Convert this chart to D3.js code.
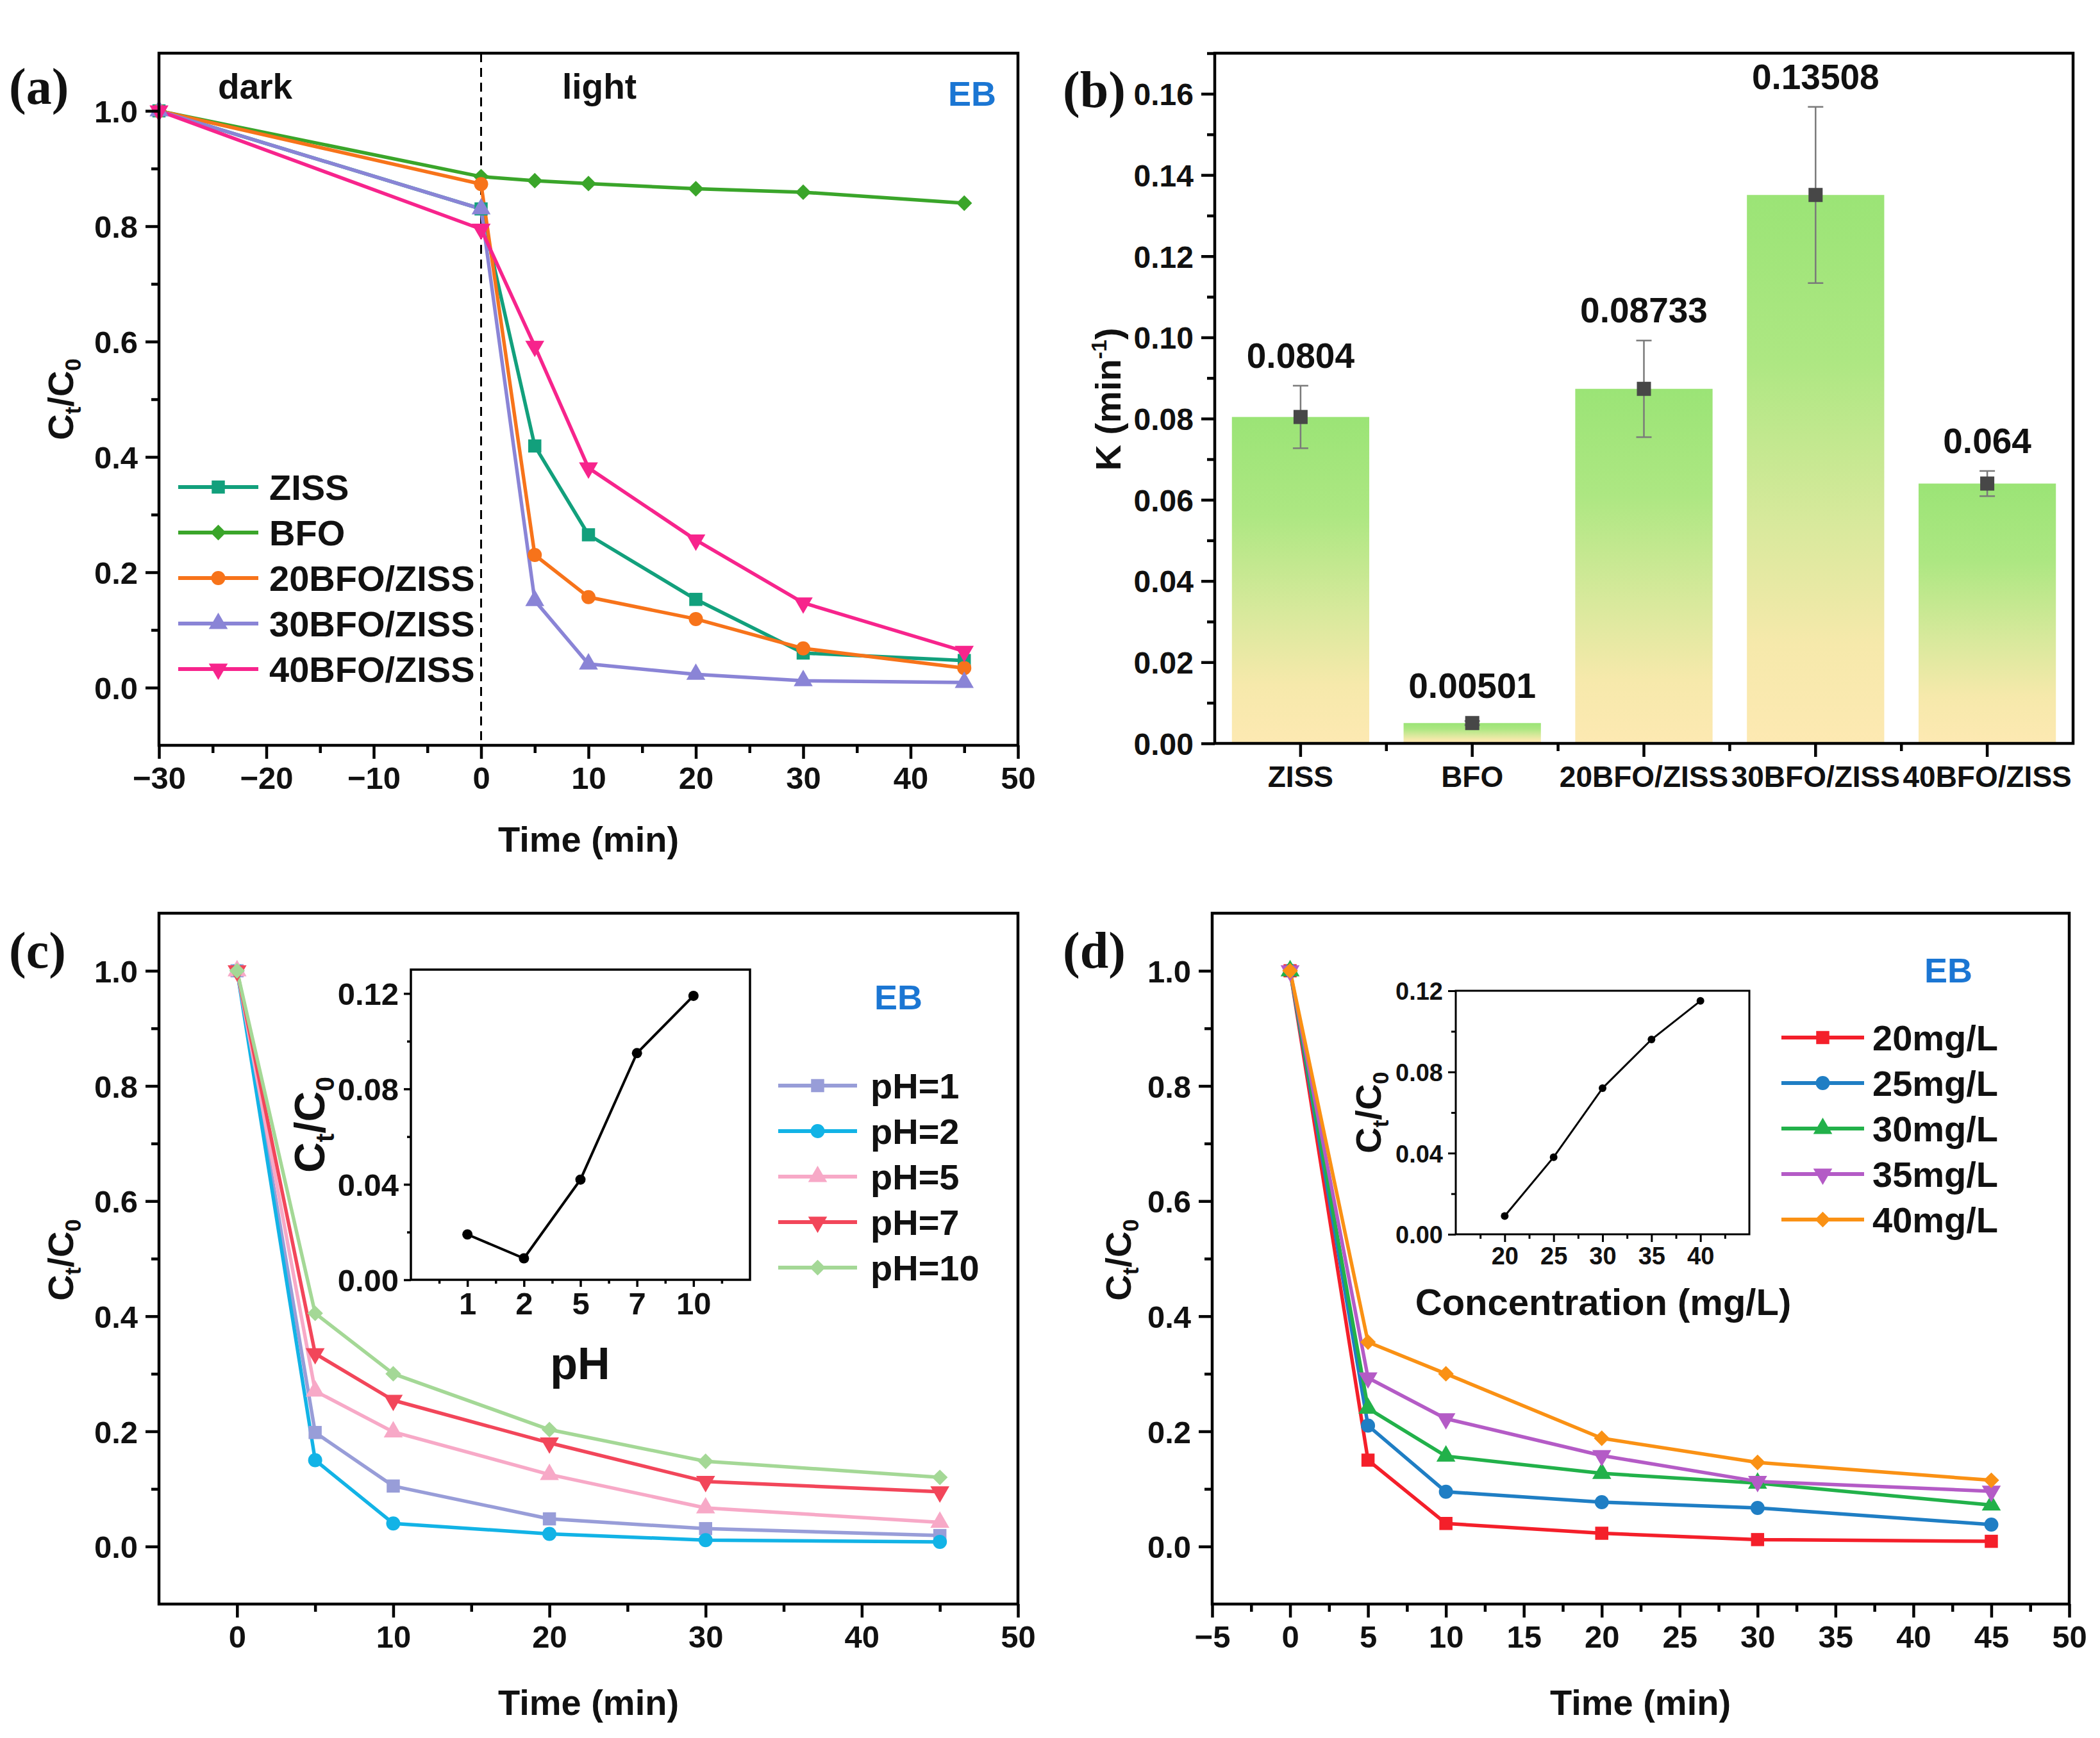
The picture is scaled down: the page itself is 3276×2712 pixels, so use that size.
<!DOCTYPE html>
<html>
<head>
<meta charset="utf-8">
<script src="https://cdn.jsdelivr.net/npm/d3@7"></script>
<style>
  body { margin: 0; background: #fff; }
  text { font-family: "Liberation Sans", Arial, sans-serif; font-weight: bold; fill: #111; }
</style>
</head>
<body>
<svg id="fig" width="3276" height="2712"></svg>
<script>
// ---------- data ----------
// (a) dark / light degradation
const timeA = [-30, 0, 5, 10, 20, 30, 45];
const namesA = ["ZISS", "BFO", "20BFO/ZISS", "30BFO/ZISS", "40BFO/ZISS"];
const zissA = [1.0, 0.83, 0.419, 0.265, 0.153, 0.06, 0.047];
const bfoA = [1.0, 0.886, 0.879, 0.874, 0.865, 0.859, 0.84];
const bfo20A = [1.0, 0.873, 0.23, 0.157, 0.119, 0.068, 0.034];
const bfo30A = [1.0, 0.83, 0.151, 0.041, 0.023, 0.012, 0.009];
const bfo40A = [1.0, 0.795, 0.592, 0.381, 0.256, 0.147, 0.063];

// (b) rate constants
const catsB = ["ZISS", "BFO", "20BFO/ZISS", "30BFO/ZISS", "40BFO/ZISS"];
const kB = [0.0804, 0.00501, 0.08733, 0.13508, 0.064];
const kErrB = [0.0077, 0.0005, 0.0119, 0.0217, 0.0031];
const kLabelsB = ["0.0804", "0.00501", "0.08733", "0.13508", "0.064"];

// (c) pH effect
const timeC = [0, 5, 10, 20, 30, 45];
const namesC = ["pH=1", "pH=2", "pH=5", "pH=7", "pH=10"];
const ph1C = [1.0, 0.198, 0.105, 0.048, 0.031, 0.019];
const ph2C = [1.0, 0.15, 0.04, 0.022, 0.011, 0.008];
const ph5C = [1.0, 0.27, 0.199, 0.125, 0.067, 0.042];
const ph7C = [1.0, 0.335, 0.254, 0.18, 0.113, 0.095];
const ph10C = [1.0, 0.405, 0.3, 0.203, 0.148, 0.12];
const insetPhLabels = ["1", "2", "5", "7", "10"];
const insetPhValues = [0.019, 0.009, 0.042, 0.095, 0.119];

// (d) concentration effect
const timeD = [0, 5, 10, 20, 30, 45];
const namesD = ["20mg/L", "25mg/L", "30mg/L", "35mg/L", "40mg/L"];
const c20D = [1.0, 0.15, 0.04, 0.023, 0.012, 0.009];
const c25D = [1.0, 0.21, 0.095, 0.077, 0.067, 0.038];
const c30D = [1.0, 0.24, 0.157, 0.127, 0.11, 0.072];
const c35D = [1.0, 0.293, 0.222, 0.158, 0.113, 0.096];
const c40D = [1.0, 0.355, 0.3, 0.188, 0.146, 0.115];
const insetConc = [20, 25, 30, 35, 40];
const insetConcValues = [0.009, 0.038, 0.072, 0.096, 0.115];

// ---------- helpers ----------
const svg = d3.select("#fig");
svg.append("rect").attr("width", 3276).attr("height", 2712).attr("fill", "#fff");

const BLUE_EB = "#1b76d3";

function symbolFor(shape) {
    if (shape === "square") return d3.symbolSquare;
    if (shape === "circle") return d3.symbolCircle;
    if (shape === "diamond") return d3.symbolDiamond2;
    return d3.symbolTriangle;
}
const symSize = {square: 420, circle: 380, diamond: 380, up: 380, down: 380};

function marker(g, shape, x, y, color, scale) {
    let s = symSize[shape] * (scale || 1);
    g.append("path")
        .attr("d", d3.symbol().type(symbolFor(shape)).size(s)())
        .attr("transform", "translate(" + x + "," + y + ")" + (shape === "down" ? " rotate(180)" : ""))
        .attr("fill", color);
}

function axisBottom(g, x, yPos, major, minor, fmt, o) {
    let a = g.append("g").attr("transform", "translate(0," + yPos + ")")
        .call(d3.axisBottom(x).tickValues(major).tickSize(o.big).tickPadding(o.pad).tickFormat(fmt));
    a.attr("font-size", o.fs).attr("font-family", null);
    a.select(".domain").remove();
    a.selectAll("line").attr("stroke", "#000").attr("stroke-width", o.sw);
    let m = g.append("g").attr("transform", "translate(0," + yPos + ")")
        .call(d3.axisBottom(x).tickValues(minor).tickSize(o.small).tickFormat(""));
    m.select(".domain").remove();
    m.selectAll("line").attr("stroke", "#000").attr("stroke-width", o.sw);
}

function axisLeft(g, y, xPos, major, minor, fmt, o) {
    let a = g.append("g").attr("transform", "translate(" + xPos + ",0)")
        .call(d3.axisLeft(y).tickValues(major).tickSize(o.big).tickPadding(o.pad).tickFormat(fmt));
    a.attr("font-size", o.fs).attr("font-family", null);
    a.select(".domain").remove();
    a.selectAll("line").attr("stroke", "#000").attr("stroke-width", o.sw);
    a.selectAll("text").attr("dy", "0.36em");
    let m = g.append("g").attr("transform", "translate(" + xPos + ",0)")
        .call(d3.axisLeft(y).tickValues(minor).tickSize(o.small).tickFormat(""));
    m.select(".domain").remove();
    m.selectAll("line").attr("stroke", "#000").attr("stroke-width", o.sw);
}

function frame(g, x, y, sw) {
    let [x0, x1] = x.range(), [yb, yt] = y.range();
    g.append("rect").attr("x", x0).attr("y", yt).attr("width", x1 - x0).attr("height", yb - yt)
        .attr("fill", "none").attr("stroke", "#000").attr("stroke-width", sw);
}

// "Ct/C0" title with subscripts
function ctTitle(g, x, y, fs, rotate) {
    let t = g.append("text").attr("font-size", fs).attr("text-anchor", "middle")
        .attr("transform", "translate(" + x + "," + y + ")" + (rotate ? " rotate(-90)" : ""));
    t.append("tspan").text("C");
    t.append("tspan").attr("font-size", fs * 0.62).attr("dy", fs * 0.22).text("t");
    t.append("tspan").attr("dy", -fs * 0.22).text("/C");
    t.append("tspan").attr("font-size", fs * 0.62).attr("dy", fs * 0.22).text("0");
    return t;
}

function panelLabel(x, y, s) {
    svg.append("text").attr("x", x).attr("y", y).attr("font-size", 80)
        .style("font-family", "'Liberation Serif', 'Times New Roman', serif").text(s);
}

const mainTick = {big: 21, small: 12, pad: 12, fs: 49, sw: 4.5};
const fmt1 = d3.format(".1f");
const yMajor = [0, 0.2, 0.4, 0.6, 0.8, 1.0];
const yMinor = [0.1, 0.3, 0.5, 0.7, 0.9];

function drawSeries(g, x, y, xs, series) {
    let line = d3.line().x((d, i) => x(xs[i])).y(d => y(d));
    series.forEach(s => {
        g.append("path").datum(s.values).attr("d", line)
            .attr("fill", "none").attr("stroke", s.color).attr("stroke-width", 5.5).attr("stroke-linejoin", "round");
    });
    series.forEach(s => {
        s.values.forEach((v, i) => marker(g, s.shape, x(xs[i]), y(v), s.color));
    });
}

function legend(g, series, x0, x1, tx, yStart, step) {
    series.forEach((s, i) => {
        let yy = yStart + i * step;
        g.append("line").attr("x1", x0).attr("x2", x1).attr("y1", yy).attr("y2", yy)
            .attr("stroke", s.color).attr("stroke-width", 6);
        marker(g, s.shape, (x0 + x1) / 2, yy, s.color);
        g.append("text").attr("x", tx).attr("y", yy).attr("dy", "0.36em").attr("font-size", 56).text(s.name);
    });
}

// ---------- panel (a) ----------
(function () {
    let g = svg.append("g");
    let x = d3.scaleLinear().domain([-30, 50]).range([248, 1588]);
    let y = d3.scaleLinear().domain([-0.1, 1.1]).range([1163, 83]);
    let series = [
        {name: namesA[0], values: zissA, color: "#12a07c", shape: "square"},
        {name: namesA[1], values: bfoA, color: "#3aa52a", shape: "diamond"},
        {name: namesA[2], values: bfo20A, color: "#f7731a", shape: "circle"},
        {name: namesA[3], values: bfo30A, color: "#8a84d6", shape: "up"},
        {name: namesA[4], values: bfo40A, color: "#f7248c", shape: "down"}
    ];
    g.append("line").attr("x1", x(0)).attr("x2", x(0)).attr("y1", y(1.1)).attr("y2", y(-0.1))
        .attr("stroke", "#000").attr("stroke-width", 3).attr("stroke-dasharray", "14,9");
    drawSeries(g, x, y, timeA, series);
    frame(g, x, y, 4.5);
    axisBottom(g, x, y.range()[0], d3.range(-30, 51, 10), d3.range(-25, 50, 10), d3.format("d"), mainTick);
    axisLeft(g, y, x.range()[0], yMajor, yMinor, fmt1, mainTick);
    legend(g, series, 278, 403, 420, 760, 71);
    g.append("text").attr("x", 340).attr("y", 154).attr("font-size", 55).text("dark");
    g.append("text").attr("x", 877).attr("y", 154).attr("font-size", 55).text("light");
    g.append("text").attr("x", 1554).attr("y", 165).attr("font-size", 54).attr("text-anchor", "end")
        .style("fill", BLUE_EB).text("EB");
    g.append("text").attr("x", 918).attr("y", 1329).attr("font-size", 56).attr("text-anchor", "middle").text("Time (min)");
    ctTitle(g, 114, 623, 56, true);
    panelLabel(14, 162, "(a)");
})();

// ---------- panel (b) ----------
(function () {
    let g = svg.append("g");
    let x = d3.scaleBand().domain(catsB).range([1895, 3234]).paddingInner(0.2).paddingOuter(0.1);
    let y = d3.scaleLinear().domain([0, 0.17]).range([1160, 83]);

    let grad = svg.append("defs").append("linearGradient").attr("id", "barGrad")
        .attr("x1", 0).attr("y1", 0).attr("x2", 0).attr("y2", 1);
    [[0, "#9be476"], [0.3, "#ade782"], [0.6, "#d8e99c"], [0.82, "#f6e9ab"], [1, "#fde9b2"]].forEach(s => {
        grad.append("stop").attr("offset", s[0]).attr("stop-color", s[1]);
    });

    catsB.forEach((c, i) => {
        g.append("rect").attr("x", x(c)).attr("y", y(kB[i])).attr("width", x.bandwidth())
            .attr("height", y(0) - y(kB[i])).attr("fill", "url(#barGrad)");
    });
    catsB.forEach((c, i) => {
        let cx = x(c) + x.bandwidth() / 2;
        let top = y(kB[i] + kErrB[i]), bot = y(kB[i] - kErrB[i]);
        g.append("line").attr("x1", cx).attr("x2", cx).attr("y1", top).attr("y2", bot)
            .attr("stroke", "#7a7a7a").attr("stroke-width", 2.5);
        [top, bot].forEach(yy => g.append("line").attr("x1", cx - 12).attr("x2", cx + 12)
            .attr("y1", yy).attr("y2", yy).attr("stroke", "#7a7a7a").attr("stroke-width", 2.5));
        g.append("rect").attr("x", cx - 11).attr("y", y(kB[i]) - 11).attr("width", 22).attr("height", 22)
            .attr("fill", "#474747");
        let lab = Math.min(top, y(kB[i]) - 11) - 28;
        g.append("text").attr("x", cx).attr("y", lab).attr("font-size", 55).attr("text-anchor", "middle")
            .text(kLabelsB[i]);
    });

    frame(g, d3.scaleLinear().range([1895, 3234]), y, 4.5);
    // bottom axis: major at bar centres, minor between bars
    let xb = g.append("g").attr("transform", "translate(0," + y(0) + ")")
        .call(d3.axisBottom(x).tickSize(21).tickPadding(14));
    xb.attr("font-size", 46).attr("font-family", null);
    xb.select(".domain").remove();
    xb.selectAll("line").attr("stroke", "#000").attr("stroke-width", 4.5);
    catsB.slice(1).forEach(c => {
        let xm = x(c) - x.step() * x.paddingInner() / 2;
        g.append("line").attr("x1", xm).attr("x2", xm).attr("y1", y(0)).attr("y2", y(0) + 12)
            .attr("stroke", "#000").attr("stroke-width", 4.5);
    });
    axisLeft(g, y, 1895, d3.range(0, 0.161, 0.02), d3.range(0.01, 0.171, 0.02), d3.format(".2f"),
        {big: 21, small: 12, pad: 12, fs: 48, sw: 4.5});

    let t = g.append("text").attr("font-size", 56).attr("text-anchor", "middle")
        .attr("transform", "translate(1748,623) rotate(-90)");
    t.append("tspan").text("K (min");
    t.append("tspan").attr("font-size", 34).attr("dy", -22).text("-1");
    t.append("tspan").attr("dy", 22).text(")");
    panelLabel(1658, 167, "(b)");
})();

// ---------- panel (c) ----------
(function () {
    let g = svg.append("g");
    let x = d3.scaleLinear().domain([-5, 50]).range([248, 1588]);
    let y = d3.scaleLinear().domain([-0.1, 1.1]).range([2503, 1425]);
    let series = [
        {name: namesC[0], values: ph1C, color: "#989dd8", shape: "square"},
        {name: namesC[1], values: ph2C, color: "#12b3e6", shape: "circle"},
        {name: namesC[2], values: ph5C, color: "#f7a9c7", shape: "up"},
        {name: namesC[3], values: ph7C, color: "#f2465a", shape: "down"},
        {name: namesC[4], values: ph10C, color: "#a4d896", shape: "diamond"}
    ];
    drawSeries(g, x, y, timeC, series);
    frame(g, x, y, 4.5);
    axisBottom(g, x, y.range()[0], d3.range(0, 51, 10), d3.range(5, 50, 10), d3.format("d"), mainTick);
    axisLeft(g, y, x.range()[0], yMajor, yMinor, fmt1, mainTick);
    legend(g, series, 1214, 1337, 1358, 1694, 71);
    g.append("text").attr("x", 1364).attr("y", 1575).attr("font-size", 54).style("fill", BLUE_EB).text("EB");
    g.append("text").attr("x", 918).attr("y", 2676).attr("font-size", 56).attr("text-anchor", "middle").text("Time (min)");
    ctTitle(g, 114, 1966, 56, true);
    panelLabel(14, 1510, "(c)");

    // inset: Ct/C0 vs pH
    let ix = d3.scaleLinear().domain([0, 6]).range([641, 1170]);
    let iy = d3.scaleLinear().domain([0, 0.13]).range([1997, 1513]);
    let ig = g.append("g");
    let o = {big: 11, small: 6, pad: 8, fs: 49, sw: 3.5};
    let pts = insetPhValues.map((v, i) => [i + 1, v]);
    ig.append("path").datum(pts).attr("d", d3.line().x(d => ix(d[0])).y(d => iy(d[1])))
        .attr("fill", "none").attr("stroke", "#000").attr("stroke-width", 4);
    pts.forEach(p => ig.append("circle").attr("cx", ix(p[0])).attr("cy", iy(p[1])).attr("r", 8).attr("fill", "#000"));
    frame(ig, ix, iy, 3.5);
    axisBottom(ig, ix, 1997, [1, 2, 3, 4, 5], d3.range(0.5, 6, 1), (d, i) => insetPhLabels[i], o);
    axisLeft(ig, iy, 641, [0, 0.04, 0.08, 0.12], [0.02, 0.06, 0.1], d3.format(".2f"), o);
    ig.append("text").attr("x", 905).attr("y", 2152).attr("font-size", 70).attr("text-anchor", "middle").text("pH");
    ctTitle(ig, 506, 1755, 66, true);
})();

// ---------- panel (d) ----------
(function () {
    let g = svg.append("g");
    let x = d3.scaleLinear().domain([-5, 50]).range([1891, 3228]);
    let y = d3.scaleLinear().domain([-0.1, 1.1]).range([2503, 1425]);
    let series = [
        {name: namesD[0], values: c20D, color: "#f41f2a", shape: "square"},
        {name: namesD[1], values: c25D, color: "#1f7ec4", shape: "circle"},
        {name: namesD[2], values: c30D, color: "#22b14a", shape: "up"},
        {name: namesD[3], values: c35D, color: "#b45bc6", shape: "down"},
        {name: namesD[4], values: c40D, color: "#fa9114", shape: "diamond"}
    ];
    drawSeries(g, x, y, timeD, series);
    frame(g, x, y, 4.5);
    axisBottom(g, x, y.range()[0], d3.range(-5, 51, 5), d3.range(-2.5, 50, 5), d3.format("d"), mainTick);
    axisLeft(g, y, x.range()[0], yMajor, yMinor, fmt1, mainTick);
    legend(g, series, 2779, 2908, 2921, 1619, 71);
    g.append("text").attr("x", 3002).attr("y", 1533).attr("font-size", 54).style("fill", BLUE_EB).text("EB");
    g.append("text").attr("x", 2559).attr("y", 2676).attr("font-size", 56).attr("text-anchor", "middle").text("Time (min)");
    ctTitle(g, 1764, 1966, 56, true);
    panelLabel(1658, 1510, "(d)");

    // inset: Ct/C0 vs concentration
    let ix = d3.scaleLinear().domain([15, 45]).range([2271, 2729]);
    let iy = d3.scaleLinear().domain([0, 0.12]).range([1926, 1546]);
    let ig = g.append("g");
    let o = {big: 12, small: 7, pad: 8, fs: 38, sw: 3};
    ig.append("path").datum(insetConcValues).attr("d", d3.line().x((d, i) => ix(insetConc[i])).y(d => iy(d)))
        .attr("fill", "none").attr("stroke", "#000").attr("stroke-width", 3);
    insetConcValues.forEach((v, i) => ig.append("circle").attr("cx", ix(insetConc[i])).attr("cy", iy(v))
        .attr("r", 6).attr("fill", "#000"));
    frame(ig, ix, iy, 3);
    axisBottom(ig, ix, 1926, insetConc, [17.5, 22.5, 27.5, 32.5, 37.5, 42.5], d3.format("d"), o);
    axisLeft(ig, iy, 2271, [0, 0.04, 0.08, 0.12], [0.02, 0.06, 0.1], d3.format(".2f"), o);
    ig.append("text").attr("x", 2501).attr("y", 2052).attr("font-size", 58).attr("text-anchor", "middle")
        .text("Concentration (mg/L)");
    ctTitle(ig, 2154, 1736, 56, true);
})();
</script>
</body>
</html>
